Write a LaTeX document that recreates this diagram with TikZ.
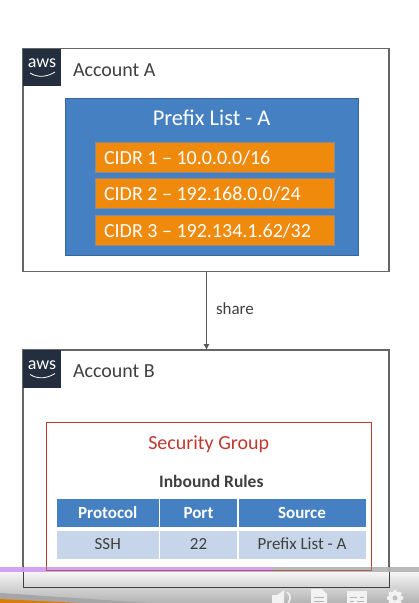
\documentclass[tikz,border=0pt]{standalone}
\usepackage{fontspec}
\setmainfont{Carlito}
\usetikzlibrary{arrows.meta}
\definecolor{awsdark}{HTML}{232F3E}
\definecolor{txt}{HTML}{404040}
\definecolor{blu}{HTML}{4580C2}
\definecolor{org}{HTML}{F08A0C}
\definecolor{lightblu}{HTML}{C6D5E9}
\definecolor{sgred}{HTML}{BE3A2E}
\definecolor{progress}{HTML}{D09CF0}
\newcommand{\fs}[1]{\fontsize{#1}{#1}\selectfont}
\tikzset{
  every node/.style={outer sep=0pt},
  account/.style={draw=black!60,line width=1.1pt,fill=white,minimum width=#1,inner sep=0pt,anchor=north west},
  logobox/.style={fill=awsdark,minimum width=37.5pt,minimum height=37.5pt,inner sep=0pt,anchor=north west},
  awstext/.style={text=white,font=\fs{18},inner sep=0pt},
  title/.style={anchor=west,text=txt,font=\fs{20},inner sep=0pt},
  cidr/.style={fill=org,draw=black!45,line width=.6pt,minimum width=239pt,minimum height=30pt,inner sep=0pt,anchor=north west},
  cidrtext/.style={text=white,font=\fs{20},inner sep=0pt,anchor=west},
  head/.style={fill=blu,minimum height=28pt,inner sep=0pt,text=white,font=\bfseries\fs{17},anchor=north west,text height=11pt,text depth=1pt},
  cellb/.style={fill=lightblu,minimum height=28pt,inner sep=0pt,text=txt,font=\fs{17},anchor=north west,text height=11pt,text depth=1pt},
  smile/.style={draw=white,line width=.8pt}
}
\begin{document}
\begin{tikzpicture}[x=1pt,y=-1pt]
\useasboundingbox (0,0) rectangle (419,603);
\fill[white] (0,0) rectangle (419,603);
% account A
\node[account=366pt,minimum height=223pt] (acca) at (23,48.5) {};
\node[logobox] (logoa) at (23,48.5) {};
\node[awstext] (awsa) at (42,63.5) {aws};
\draw[smile] (30,73) .. controls (38,78) and (47,77) .. (55,72);
\node[title] (ta) at (73,70.5) {Account A};
\node[fill=blu,draw=blu!80!black,line width=.6pt,minimum width=293pt,minimum height=157pt,inner sep=0pt,anchor=north west] (pl) at (65,98) {};
\node[text=white,font=\fs{22.5},inner sep=0pt] (plt) at (211.6,118) {Prefix List - A};
\node[cidr] (c1) at (95,142) {};
\node[cidr] (c2) at (95,178.5) {};
\node[cidr] (c3) at (95,215.5) {};
\node[cidrtext] (t1) at (104,157.5) {CIDR 1 – 10.0.0.0/16};
\node[cidrtext] (t2) at (104,194) {CIDR 2 – 192.168.0.0/24};
\node[cidrtext] (t3) at (104,231) {CIDR 3 – 192.134.1.62/32};
% account B
\node[account=366pt,minimum height=237pt] (accb) at (23,350) {};
\node[logobox] (logob) at (23,350) {};
\node[awstext] (awsb) at (42,365) {aws};
\draw[smile] (30,374.5) .. controls (38,379.5) and (47,378.5) .. (55,373.5);
\node[title] (tb) at (73,371.5) {Account B};
% connector
\draw[black!65,line width=.8pt,-{Latex[length=6pt,width=6pt]}] (acca.south -| 206.5,0) -- (accb.north -| 206.5,0);
\node[text=txt,font=\fs{17},inner sep=0pt,anchor=west] (share) at (216,308.5) {share};
% security group
\node[draw=sgred,line width=1pt,fill=white,minimum width=325pt,minimum height=147.5pt,inner sep=0pt,anchor=north west] (sg) at (46,422.5) {};
\node[text=sgred,font=\fs{20},inner sep=0pt] (sgt) at (208.7,444.5) {Security Group};
\node[text=txt,font=\bfseries\fs{17.5},inner sep=0pt] (ir) at (211.3,481.5) {Inbound Rules};
\node[head,minimum width=101.5pt] (h1) at (57,499) {Protocol};
\node[head,minimum width=77pt] (h2) at (160,499) {Port};
\node[head,minimum width=127pt] (h3) at (238.5,499) {Source};
\node[cellb,minimum width=101.5pt] (r1) at (57,530.5) {SSH};
\node[cellb,minimum width=77pt] (r2) at (160,530.5) {22};
\node[cellb,minimum width=127pt] (r3) at (238.5,530.5) {Prefix List - A};
% video player bar
\shade[top color=black!3,bottom color=black!30] (0,571) rectangle (419,603);
\fill[black!35] (0,593) -- (150,603) -- (0,603) -- cycle;
\fill[org!90!black] (0,599) -- (80,603) -- (0,603) -- cycle;
\draw[black!75,line width=1pt] (23,566) -- (23,587) -- (389,587) -- (389,566);
\fill[black!30,opacity=.9] (273,566.5) rectangle (419,572);
\fill[progress,opacity=.92] (0,566.5) rectangle (273,572);
\draw[sgred!75!black!75,line width=1pt] (46,566) -- (46,570) -- (371,570) -- (371,566);
% icons
\fill[black!5] (272,595) -- (277,595) -- (284,590) -- (284,603) -- (272,603) -- cycle;
\draw[black!5,line width=1.5pt] (287,592) .. controls (291,595) and (291,600) .. (288,603);
\fill[black!5] (311,589) -- (322,589) -- (327,594) -- (327,603) -- (311,603) -- cycle;
\draw[black!30,line width=.9pt] (314,597) -- (324,597) (314,601) -- (324,601);
\fill[black!5] (347,591) rectangle (367,603);
\draw[black!30,line width=.9pt] (350,597) -- (357,597) (360,597) -- (364,597) (350,601) -- (354,601) (357,601) -- (364,601);
\fill[black!5] (395,598) circle (6.5pt);
\fill[black!5] \foreach \a in {0,45,...,315} { (395,598) ++(\a:6.5pt) circle (2pt) };
\fill[black!25] (395,598) circle (2.5pt);
\end{tikzpicture}
\end{document}
